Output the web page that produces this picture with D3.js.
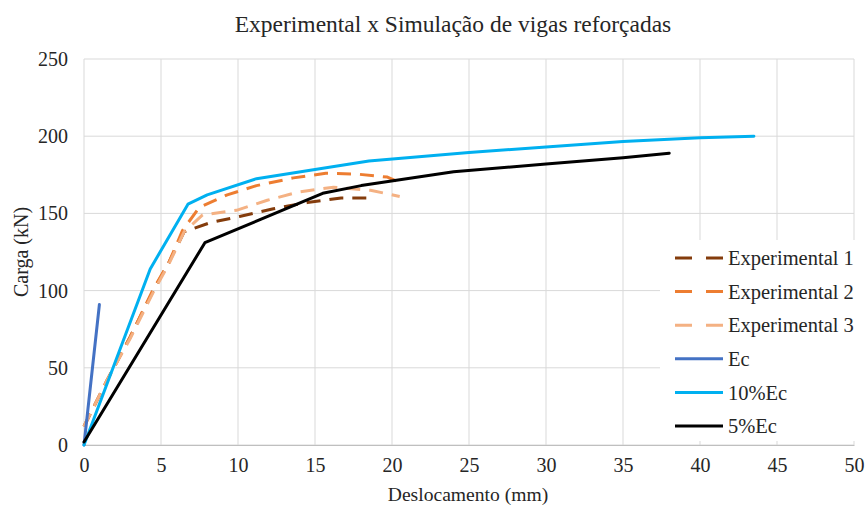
<!DOCTYPE html>
<html>
<head>
<meta charset="utf-8">
<script src="https://cdn.jsdelivr.net/npm/d3@7"></script>
<style>
  body { margin: 0; background: #fff; }
</style>
</head>
<body>
<div id="chart"></div>
<script>
// data: [deslocamento (mm), carga (kN)]
var exp1 = [[0,12],[1.5,42],[3,70],[4.5,100],[5.5,118],[6.5,138],[8.2,144],[10.1,148],[12.3,153],[14.5,157],[16.7,160],[18.4,160]];
var exp2 = [[0,12],[1.5,42],[3,70],[4.5,101],[5.5,118],[6.4,139],[7.5,154],[9.3,162],[11.2,168],[13.6,173],[15.7,176],[17.7,175.5],[19.7,173.5],[20.3,171]];
var exp3 = [[0,12],[1.5,42],[3,69],[4.5,99],[5.5,117],[6.5,138],[7.7,149],[9.9,152],[11.9,158.5],[14,164],[16.2,167],[18.6,165],[20.5,161]];
var ec = [[0,0],[1,91]];
var ec10 = [[0,0],[4.3,114],[6.75,156],[8,162],[11.2,172.5],[15,178.5],[18.5,184],[25,189.5],[30,193],[35,196.5],[40,199],[43.5,200]];
var ec5 = [[0,2],[7.85,131],[15.5,163],[18,168],[24,177],[30,182],[35,186],[38,189]];

var seriesNames = ["Experimental 1", "Experimental 2", "Experimental 3", "Ec", "10%Ec", "5%Ec"];
var seriesData = [exp1, exp2, exp3, ec, ec10, ec5];
var seriesColors = ["#843C0C", "#ED7D31", "#F4B183", "#4472C4", "#00B0F0", "#000000"];
var seriesDashed = [true, true, true, false, false, false];

var xTicks = [0, 5, 10, 15, 20, 25, 30, 35, 40, 45, 50];
var yTicks = [0, 50, 100, 150, 200, 250];

var serif = "'Liberation Serif', 'Times New Roman', 'DejaVu Serif', serif";

// dimensions and margins
var margin = {top: 59, right: 12, bottom: 61, left: 84},
    width = 866 - margin.left - margin.right,
    height = 506 - margin.top - margin.bottom;

var svg = d3.select("#chart")
  .append("svg")
    .attr("width", 866)
    .attr("height", 506)
  .append("g")
    .attr("transform", "translate(" + margin.left + "," + margin.top + ")");

var x = d3.scaleLinear().domain([0, 50]).range([0, width]);
var y = d3.scaleLinear().domain([0, 250]).range([height, 0]);

// grid
svg.append("g")
  .selectAll("line.v")
  .data(xTicks)
  .enter().append("line")
    .attr("x1", function(d) { return x(d); })
    .attr("x2", function(d) { return x(d); })
    .attr("y1", 0)
    .attr("y2", height)
    .style("stroke", "#d9d9d9")
    .style("stroke-width", 1);

svg.append("g")
  .selectAll("line.h")
  .data(yTicks)
  .enter().append("line")
    .attr("x1", 0)
    .attr("x2", width)
    .attr("y1", function(d) { return y(d); })
    .attr("y2", function(d) { return y(d); })
    .style("stroke", "#d9d9d9")
    .style("stroke-width", 1);

// X axis
var xAxis = svg.append("g")
  .attr("transform", "translate(0," + height + ")")
  .call(d3.axisBottom(x).tickValues(xTicks).tickSize(0).tickPadding(13));
xAxis.select(".domain").style("stroke", "#bfbfbf");
xAxis.selectAll("text")
  .style("font-family", serif)
  .style("font-size", "20px")
  .style("fill", "#262626");

// Y axis
var yAxis = svg.append("g")
  .call(d3.axisLeft(y).tickValues(yTicks).tickSize(0).tickPadding(16));
yAxis.select(".domain").remove();
yAxis.selectAll("text")
  .style("font-family", serif)
  .style("font-size", "20px")
  .style("fill", "#262626");

// lines
var line = d3.line()
  .x(function(d) { return x(d[0]); })
  .y(function(d) { return y(d[1]); });

seriesData.forEach(function(data, i) {
  svg.append("path")
    .datum(data)
    .attr("d", line)
    .style("fill", "none")
    .style("stroke", seriesColors[i])
    .style("stroke-width", 3)
    .style("stroke-linejoin", "round")
    .style("stroke-linecap", seriesDashed[i] ? "butt" : "round")
    .style("stroke-dasharray", seriesDashed[i] ? "14,9" : null);
});

// legend
var legend = svg.append("g")
  .attr("transform", "translate(" + (660 - margin.left) + "," + (240 - margin.top) + ")");

legend.append("rect")
  .attr("x", 0)
  .attr("y", 0)
  .attr("width", 200)
  .attr("height", 201)
  .style("fill", "#fff");

var rows = legend.selectAll("g.row")
  .data(seriesNames)
  .enter().append("g")
    .attr("transform", function(d, i) { return "translate(15," + (18 + i * 33.6) + ")"; });

rows.append("line")
  .attr("x1", 0)
  .attr("x2", 48)
  .attr("y1", 0)
  .attr("y2", 0)
  .style("stroke", function(d, i) { return seriesColors[i]; })
  .style("stroke-width", 3)
  .style("stroke-dasharray", function(d, i) { return seriesDashed[i] ? "17,14,17" : null; });

rows.append("text")
  .attr("x", 53)
  .attr("y", 0)
  .attr("dy", "0.35em")
  .style("font-family", serif)
  .style("font-size", "20.5px")
  .style("fill", "#262626")
  .text(function(d) { return d; });

// Chart title
svg.append("text")
  .attr("x", 453 - margin.left)
  .attr("y", 24 - margin.top)
  .attr("dy", "0.35em")
  .attr("text-anchor", "middle")
  .style("font-family", serif)
  .style("font-size", "23.5px")
  .style("fill", "#262626")
  .text("Experimental x Simulação de vigas reforçadas");

// axis labels
svg.append("text")
  .attr("transform", "rotate(-90)")
  .attr("x", -(252 - margin.top))
  .attr("y", 21 - margin.left)
  .attr("dy", "0.35em")
  .attr("text-anchor", "middle")
  .style("font-family", serif)
  .style("font-size", "20px")
  .style("fill", "#262626")
  .text("Carga (kN)");

svg.append("text")
  .attr("x", 468 - margin.left)
  .attr("y", 494 - margin.top)
  .attr("dy", "0.35em")
  .attr("text-anchor", "middle")
  .style("font-family", serif)
  .style("font-size", "19.6px")
  .style("fill", "#262626")
  .text("Deslocamento (mm)");
</script>
</body>
</html>
